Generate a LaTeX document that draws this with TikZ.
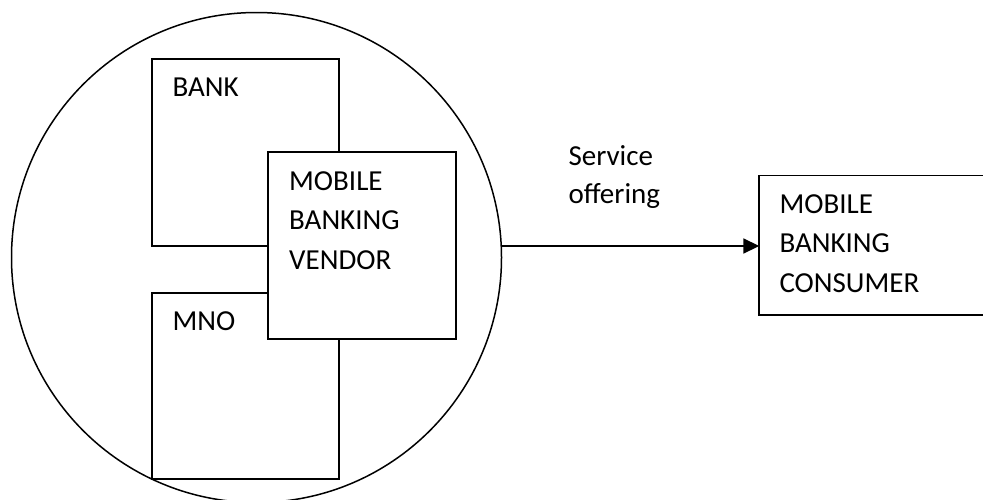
\documentclass[tikz,border=0pt]{standalone}
\usepackage{fontspec}
\setmainfont{Carlito}
\usetikzlibrary{arrows.meta}
% left-aligned stack of lines whose baseline is that of the first line
\newcommand{\lines}[2]{\vtop{\baselineskip=#1\halign{##\hfil\cr#2\crcr}}}
\begin{document}
\begin{tikzpicture}[x=1pt,y=-1pt,
  box/.style={draw=black,line width=1.8pt,fill=white},
  lbl/.style={anchor=base west,inner sep=0pt,font=\fontsize{29}{39.5}\selectfont}]
\useasboundingbox (0,0) rectangle (983,499);
% the alliance circle
\draw[line width=1.5pt] (256.5,257.5) circle [radius=245];
\coordinate (ce) at (501.5,246);
% partners inside the circle
\draw[box] (151.7,59) rectangle (339,246);
\draw[box] (151.7,292.7) rectangle (339,479.3);
\draw[box] (268.3,152.3) rectangle (456,339.3);
\node[lbl] (bank) at (172.3,96.7) {BANK};
\node[lbl] (mno) at (172.3,330) {MNO};
\node[lbl] (vendor) at (289,190) {\lines{39.5pt}{MOBILE\cr BANKING\cr VENDOR}};
% consumer box
\draw[box] (759.3,175.5) rectangle (990,315);
\coordinate (cw) at (759.3,246);
\node[lbl] (consumer) at (779.3,213.3) {\lines{39.5pt}{MOBILE\cr BANKING\cr CONSUMER}};
% service link
\draw[line width=1.8pt,-{Triangle[length=16pt,width=15pt]}] (ce) -- (cw);
\node[lbl] (offer) at (568.3,165) {\lines{38.5pt}{Service\cr offering}};
\end{tikzpicture}
\end{document}
